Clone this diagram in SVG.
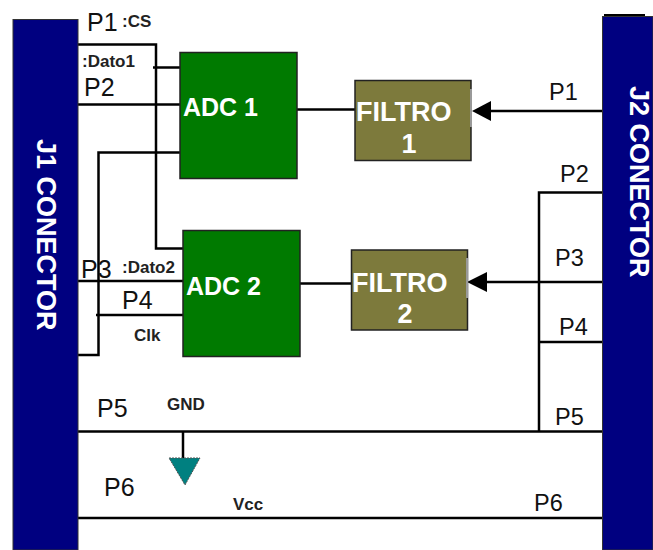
<svg xmlns="http://www.w3.org/2000/svg" width="653" height="550" viewBox="0 0 653 550">
<style>
text{font-family:"Liberation Sans",Arial,sans-serif}
.conn{fill:#000080;stroke:#333;stroke-width:1}
.adc{fill:#007a00;stroke:#222;stroke-width:1.500}
.fil{fill:#7d7a3c;stroke:#222;stroke-width:1.500}
.w{fill:none;stroke:#000;stroke-width:2.500}
.l{font-size:25px;fill:#111}
.r{font-size:23.500px;fill:#111}
.s{font-size:17px;font-weight:bold;fill:#222}
.t{font-size:27px;font-weight:bold;fill:#fff}
.a{font-size:25px;font-weight:bold;fill:#fff}
.f{font-size:27px;font-weight:bold;fill:#fff}
</style>
<rect width="653" height="550" fill="#fff"/>
<g id="connectors">
<path class="w" d="M77 44.500H156V248.500H183"/>
<path class="w" d="M153 67.500H180"/>
<path class="w" d="M77 104.500H181"/>
<path class="w" d="M180 152.500H98.500V355H78"/>
<path class="w" d="M77 281H183"/>
<path class="w" d="M96 315H183"/>
<path class="w" d="M294 109.500H355"/>
<path class="w" d="M298 283.500H352"/>
<path class="w" d="M602 111H490"/>
<path class="w" d="M602 282H485"/>
<path class="w" d="M602 192.500H539V431"/>
<path class="w" d="M539 342H602"/>
<path class="w" d="M78 431.500H602"/>
<path class="w" d="M78 518H602"/>
<path class="w" d="M183 432V458"/>
<path d="M472 111L491 101V121Z" fill="#000"/>
<path d="M467 282L487 272V292Z" fill="#000"/>
</g>
<g id="j1"><rect class="conn" x="13" y="19.500" width="65" height="530.500"/>
<text class="t" transform="translate(37,139) rotate(90)">J1 CONECTOR</text></g>
<g id="j2"><rect class="conn" x="602.500" y="16.500" width="50.500" height="533.500"/>
<path d="M604 15H645" stroke="#000" stroke-width="2"/>
<text class="t" transform="translate(630,86) rotate(90)">J2 CONECTOR</text></g>
<g id="adc1"><rect class="adc" x="180" y="52.500" width="117" height="126"/>
<text class="a" x="183" y="116">ADC 1</text></g>
<g id="adc2"><rect class="adc" x="183" y="230.500" width="117" height="126"/>
<text class="a" x="186" y="295">ADC 2</text></g>
<g id="filtro1"><rect class="fil" x="355" y="80.500" width="116" height="80"/>
<path d="M471 89V127" stroke="#999" stroke-width="2"/>
<text class="f" x="356" y="121">FILTRO</text><text class="f" x="409" y="153" text-anchor="middle">1</text></g>
<g id="filtro2"><rect class="fil" x="351.500" y="250" width="116" height="80"/>
<path d="M467 258V298" stroke="#999" stroke-width="2"/>
<text class="f" x="352" y="292">FILTRO</text><text class="f" x="405" y="323" text-anchor="middle">2</text></g>
<g id="gnd"><path d="M169 458H200L185 485Z" fill="#008080" stroke="#555" stroke-dasharray="2 1"/></g>
<g id="labels">
<text class="l" x="87" y="31">P1</text><text class="s" x="122" y="27">:CS</text>
<text class="s" x="82" y="67">:Dato1</text>
<text class="l" x="84" y="96">P2</text>
<text class="l" x="81" y="278">P3</text><text class="s" x="122" y="273">:Dato2</text>
<text class="l" x="122" y="309">P4</text>
<text class="s" x="134" y="341">Clk</text>
<text class="l" x="97" y="417">P5</text>
<text class="s" x="167" y="410">GND</text>
<text class="l" x="104" y="496">P6</text>
<text class="s" x="233" y="510">Vcc</text>
<text class="r" x="549" y="100">P1</text>
<text class="r" x="560" y="182">P2</text>
<text class="r" x="555" y="266">P3</text>
<text class="r" x="559" y="335">P4</text>
<text class="r" x="555" y="425">P5</text>
<text class="r" x="534" y="511">P6</text>
</g>
</svg>
